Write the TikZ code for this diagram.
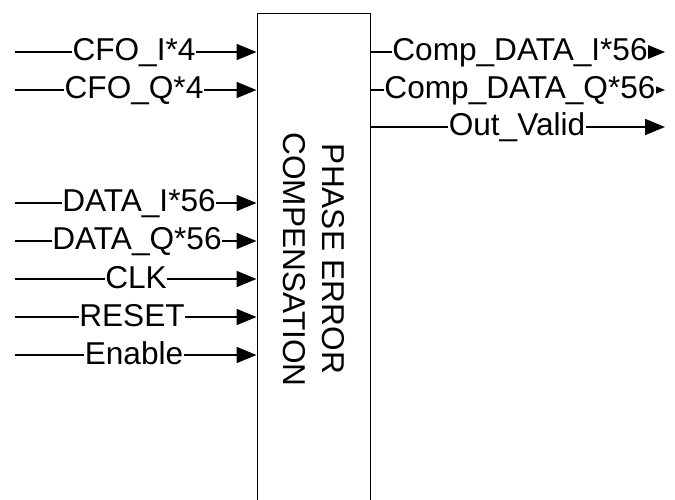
\documentclass[tikz,border=0pt]{standalone}
\usepackage{fontspec}
\setmainfont{Liberation Sans}
\usetikzlibrary{arrows.meta}
\begin{document}
\begin{tikzpicture}[x=1bp, y=-1bp,
  every node/.style={font=\fontsize{31.6bp}{38bp}\selectfont},
  sig/.style={line width=1.8bp, -{Triangle[length=20bp,width=16bp]}},
  lab/.style={fill=white, inner sep=0.6bp, anchor=base, yshift=-9bp},
  blockbox/.style={draw, line width=1bp, minimum width=113bp, minimum height=520bp,
    inner sep=0pt, anchor=north west},
  blocktext/.style={rotate=-90, anchor=base, inner sep=0pt}]
\useasboundingbox (0,0) rectangle (675,500);
\clip (0,0) rectangle (675,500);
\fill[white] (0,0) rectangle (675,500);

% the processing block (runs off the bottom edge)
\node[blockbox] (box) at (256.5,13) {};
\node[blocktext] (t1) at (322,259) {PHASE ERROR};
\node[blocktext] (t2) at (283,259.5) {COMPENSATION};

% input ports
\coordinate (cfoi) at (15,52);
\coordinate (cfoq) at (15,90);
\coordinate (dati) at (15,203);
\coordinate (datq) at (15,241);
\coordinate (clk)  at (15,279);
\coordinate (rst)  at (15,317);
\coordinate (en)   at (15,355);

% output ports
\coordinate (oi) at (665,52);
\coordinate (oq) at (665,90);
\coordinate (ov) at (665,127);

\draw[sig] (cfoi) -- (cfoi -| box.west);
\draw[sig] (cfoq) -- (cfoq -| box.west);
\draw[sig] (dati) -- (dati -| box.west);
\draw[sig] (datq) -- (datq -| box.west);
\draw[sig] (clk)  -- (clk -| box.west);
\draw[sig] (rst)  -- (rst -| box.west);
\draw[sig] (en)   -- (en -| box.west);

\draw[sig] (oi -| box.east) -- (oi);
\draw[sig] (oq -| box.east) -- (oq);
\draw[sig] (ov -| box.east) -- (ov);

% signal names sitting on the lines
\node[lab] (lcfoi) at (134,52)  {CFO\_I*4};
\node[lab] (lcfoq) at (134,90)  {CFO\_Q*4};
\node[lab] (ldati) at (139,203) {DATA\_I*56};
\node[lab] (ldatq) at (137,241) {DATA\_Q*56};
\node[lab] (lclk)  at (136,279) {CLK};
\node[lab] (lrst)  at (132,317) {RESET};
\node[lab] (len)   at (134,355) {Enable};

\node[lab] (loi) at (520,52)  {Comp\_DATA\_I*56};
\node[lab] (loq) at (520,90)  {Comp\_DATA\_Q*56};
\node[lab] (lov) at (517,127) {Out\_Valid};
\end{tikzpicture}
\end{document}
